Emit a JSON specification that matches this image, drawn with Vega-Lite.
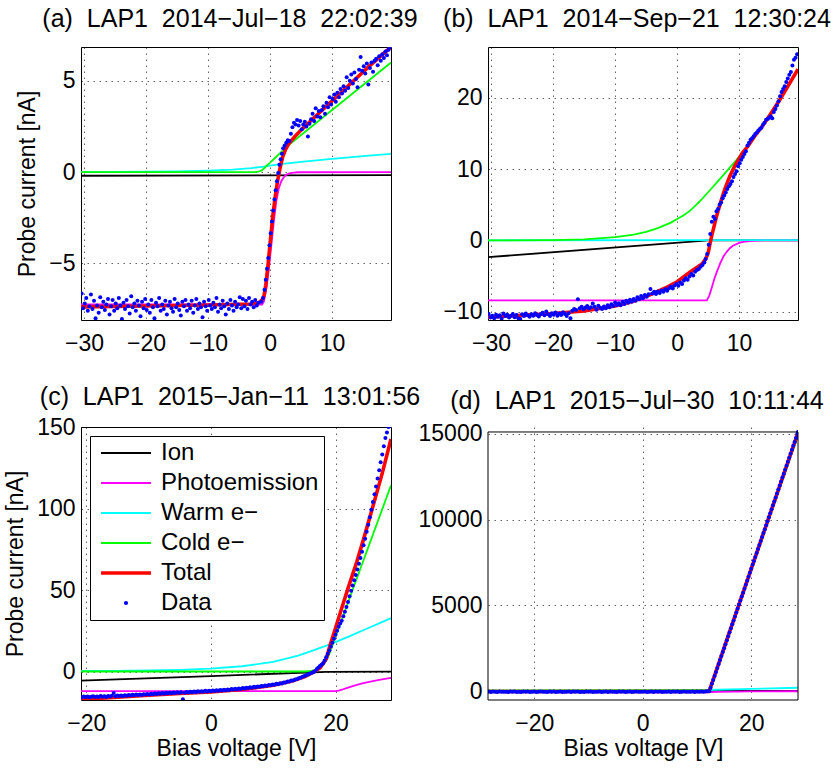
{
  "$schema": "https://vega.github.io/schema/vega-lite/v6.json",
  "background": "white",
  "padding": {"left": 4, "top": 6, "right": 0, "bottom": 0},
  "config": {
    "font": "Liberation Sans",
    "view": {"stroke": "black", "strokeWidth": 1},
    "axis": {
      "labelFont": "Liberation Sans", "labelFontSize": 23, "labelColor": "black",
      "titleFont": "Liberation Sans", "titleFontSize": 23, "titleFontWeight": "normal", "titleColor": "black",
      "domain": false, "ticks": false, "grid": true,
      "gridColor": "#000000", "gridOpacity": 0.6, "gridDash": [1.5, 4.5], "gridWidth": 1
    },
    "axisX": {"labelPadding": 12, "titlePadding": 2},
    "axisY": {"labelPadding": 6, "titlePadding": 9},
    "title": {"font": "Liberation Sans", "fontSize": 25, "fontWeight": "normal", "color": "black", "anchor": "middle", "frame": "group", "baseline": "alphabetic", "offset": 15, "dx": -6}
  },
  "columns": 2,
  "bounds": "flush",
  "spacing": {"row": 107, "column": 97},
  "resolve": {"scale": {"color": "independent"}, "legend": {"color": "independent"}},
  "datasets": {
    "a_lines": [
      {"series": "Ion", "x": -30.5, "y": -0.2}, {"series": "Ion", "x": 19.5, "y": -0.17},
      {"series": "Photoemission", "x": -30.5, "y": -7.25}, {"series": "Photoemission", "x": -1.3, "y": -7.25}, {"series": "Photoemission", "x": -1.0, "y": -7.1}, {"series": "Photoemission", "x": -0.6, "y": -6.4}, {"series": "Photoemission", "x": -0.2, "y": -5.3}, {"series": "Photoemission", "x": 0.2, "y": -4.0}, {"series": "Photoemission", "x": 0.6, "y": -2.7}, {"series": "Photoemission", "x": 1.0, "y": -1.6}, {"series": "Photoemission", "x": 1.4, "y": -0.9}, {"series": "Photoemission", "x": 1.8, "y": -0.5}, {"series": "Photoemission", "x": 2.2, "y": -0.28}, {"series": "Photoemission", "x": 2.6, "y": -0.15}, {"series": "Photoemission", "x": 3.0, "y": -0.08}, {"series": "Photoemission", "x": 3.5, "y": -0.04}, {"series": "Photoemission", "x": 4.5, "y": -0.01}, {"series": "Photoemission", "x": 19.5, "y": 0},
      {"series": "Warm e−", "x": -30.5, "y": 0.0}, {"series": "Warm e−", "x": -25, "y": 0.01}, {"series": "Warm e−", "x": -20, "y": 0.02}, {"series": "Warm e−", "x": -15, "y": 0.04}, {"series": "Warm e−", "x": -10, "y": 0.08}, {"series": "Warm e−", "x": -6, "y": 0.14}, {"series": "Warm e−", "x": -3, "y": 0.22}, {"series": "Warm e−", "x": -1, "y": 0.3}, {"series": "Warm e−", "x": 0, "y": 0.35}, {"series": "Warm e−", "x": 2, "y": 0.45}, {"series": "Warm e−", "x": 5, "y": 0.56}, {"series": "Warm e−", "x": 10, "y": 0.72}, {"series": "Warm e−", "x": 15, "y": 0.87}, {"series": "Warm e−", "x": 19.5, "y": 1.0},
      {"series": "Cold e−", "x": -30.5, "y": 0.0}, {"series": "Cold e−", "x": -2.5, "y": 0.0}, {"series": "Cold e−", "x": -1.9, "y": 0.02}, {"series": "Cold e−", "x": -1.35, "y": 0.09}, {"series": "Cold e−", "x": -0.5, "y": 0.36}, {"series": "Cold e−", "x": 0, "y": 0.52}, {"series": "Cold e−", "x": 1, "y": 0.84}, {"series": "Cold e−", "x": 2, "y": 1.16}, {"series": "Cold e−", "x": 3, "y": 1.48}, {"series": "Cold e−", "x": 5, "y": 2.03}, {"series": "Cold e−", "x": 10, "y": 3.4}, {"series": "Cold e−", "x": 15, "y": 4.77}, {"series": "Cold e−", "x": 19.5, "y": 6.0},
      {"series": "Total", "x": -30.5, "y": -7.38}, {"series": "Total", "x": -20, "y": -7.33}, {"series": "Total", "x": -10, "y": -7.28}, {"series": "Total", "x": -3, "y": -7.22}, {"series": "Total", "x": -1.8, "y": -7.15}, {"series": "Total", "x": -1.3, "y": -7.0}, {"series": "Total", "x": -1.0, "y": -6.8}, {"series": "Total", "x": -0.7, "y": -6.2}, {"series": "Total", "x": -0.4, "y": -5.3}, {"series": "Total", "x": 0, "y": -3.9}, {"series": "Total", "x": 0.4, "y": -2.5}, {"series": "Total", "x": 0.8, "y": -1.4}, {"series": "Total", "x": 1.2, "y": -0.5}, {"series": "Total", "x": 1.6, "y": 0.2}, {"series": "Total", "x": 2.0, "y": 0.8}, {"series": "Total", "x": 2.5, "y": 1.25}, {"series": "Total", "x": 3.0, "y": 1.55}, {"series": "Total", "x": 4.0, "y": 1.95}, {"series": "Total", "x": 5, "y": 2.3}, {"series": "Total", "x": 7, "y": 2.95}, {"series": "Total", "x": 10, "y": 3.9}, {"series": "Total", "x": 13, "y": 4.85}, {"series": "Total", "x": 16, "y": 5.8}, {"series": "Total", "x": 19.5, "y": 6.85}
    ],
    "a_pts": [
      {"x": -30.4, "y": -6.65}, {"x": -30.15, "y": -7.45}, {"x": -29.9, "y": -7.2}, {"x": -29.65, "y": -6.9}, {"x": -29.4, "y": -7.6}, {"x": -29.15, "y": -7.35}, {"x": -28.9, "y": -6.7}, {"x": -28.65, "y": -7.5}, {"x": -28.4, "y": -7.05}, {"x": -28.15, "y": -8.0},
      {"x": -27.9, "y": -7.3}, {"x": -27.65, "y": -7.7}, {"x": -27.4, "y": -6.85}, {"x": -27.15, "y": -7.4}, {"x": -26.9, "y": -7.1}, {"x": -26.65, "y": -7.55}, {"x": -26.4, "y": -7.25}, {"x": -26.15, "y": -6.95}, {"x": -25.9, "y": -7.8}, {"x": -25.65, "y": -7.35},
      {"x": -25.4, "y": -7.0}, {"x": -25.15, "y": -7.6}, {"x": -24.9, "y": -7.2}, {"x": -24.65, "y": -7.45}, {"x": -24.4, "y": -6.9}, {"x": -24.15, "y": -7.3}, {"x": -23.9, "y": -8.05}, {"x": -23.65, "y": -7.15}, {"x": -23.4, "y": -7.5}, {"x": -23.15, "y": -7.0},
      {"x": -22.9, "y": -7.35}, {"x": -22.65, "y": -7.75}, {"x": -22.4, "y": -6.8}, {"x": -22.15, "y": -7.4}, {"x": -21.9, "y": -7.2}, {"x": -21.65, "y": -7.6}, {"x": -21.4, "y": -7.05}, {"x": -21.15, "y": -7.3}, {"x": -20.9, "y": -7.9}, {"x": -20.65, "y": -7.1},
      {"x": -20.4, "y": -7.45}, {"x": -20.15, "y": -6.95}, {"x": -19.9, "y": -7.55}, {"x": -19.65, "y": -7.25}, {"x": -19.4, "y": -7.7}, {"x": -19.15, "y": -7.0}, {"x": -18.9, "y": -7.4}, {"x": -18.65, "y": -8.0}, {"x": -18.4, "y": -7.15}, {"x": -18.15, "y": -7.35},
      {"x": -17.9, "y": -6.9}, {"x": -17.65, "y": -7.6}, {"x": -17.4, "y": -7.25}, {"x": -17.15, "y": -7.5}, {"x": -16.9, "y": -7.05}, {"x": -16.65, "y": -7.8}, {"x": -16.4, "y": -7.3}, {"x": -16.15, "y": -7.1}, {"x": -15.9, "y": -7.45}, {"x": -15.65, "y": -7.65},
      {"x": -15.4, "y": -6.95}, {"x": -15.15, "y": -7.4}, {"x": -14.9, "y": -7.2}, {"x": -14.65, "y": -7.55}, {"x": -14.4, "y": -7.85}, {"x": -14.15, "y": -7.1}, {"x": -13.9, "y": -7.35}, {"x": -13.65, "y": -7.0}, {"x": -13.4, "y": -7.6}, {"x": -13.15, "y": -7.25},
      {"x": -12.9, "y": -7.45}, {"x": -12.65, "y": -7.05}, {"x": -12.4, "y": -7.7}, {"x": -12.15, "y": -7.3}, {"x": -11.9, "y": -6.95}, {"x": -11.65, "y": -7.5}, {"x": -11.4, "y": -7.2}, {"x": -11.15, "y": -7.4}, {"x": -10.9, "y": -7.95}, {"x": -10.65, "y": -7.1},
      {"x": -10.4, "y": -7.35}, {"x": -10.15, "y": -7.6}, {"x": -9.9, "y": -7.0}, {"x": -9.65, "y": -7.3}, {"x": -9.4, "y": -7.5}, {"x": -9.15, "y": -7.15}, {"x": -8.9, "y": -7.4}, {"x": -8.65, "y": -6.9}, {"x": -8.4, "y": -7.65}, {"x": -8.15, "y": -7.25},
      {"x": -7.9, "y": -7.45}, {"x": -7.65, "y": -7.05}, {"x": -7.4, "y": -7.35}, {"x": -7.15, "y": -7.8}, {"x": -6.9, "y": -7.2}, {"x": -6.65, "y": -7.5}, {"x": -6.4, "y": -7.0}, {"x": -6.15, "y": -7.3}, {"x": -5.9, "y": -7.6}, {"x": -5.65, "y": -7.1},
      {"x": -5.4, "y": -7.4}, {"x": -5.15, "y": -7.25}, {"x": -4.9, "y": -6.85}, {"x": -4.65, "y": -7.45}, {"x": -4.4, "y": -6.95}, {"x": -4.15, "y": -7.35}, {"x": -3.9, "y": -7.05}, {"x": -3.65, "y": -7.5}, {"x": -3.4, "y": -6.9}, {"x": -3.15, "y": -7.25},
      {"x": -2.9, "y": -7.1}, {"x": -2.65, "y": -7.4}, {"x": -2.4, "y": -7.0}, {"x": -2.15, "y": -7.3}, {"x": -1.9, "y": -7.15}, {"x": -1.65, "y": -8.2}, {"x": -1.4, "y": -7.1},
      {"x": -1.15, "y": -6.9}, {"x": -0.9, "y": -6.45}, {"x": -0.7, "y": -5.9}, {"x": -0.5, "y": -5.3}, {"x": -0.3, "y": -4.7}, {"x": -0.1, "y": -4.0}, {"x": 0.1, "y": -3.35}, {"x": 0.3, "y": -2.7}, {"x": 0.5, "y": -2.1}, {"x": 0.7, "y": -1.5},
      {"x": 0.9, "y": -1.0}, {"x": 1.1, "y": -0.5}, {"x": 1.3, "y": -0.05}, {"x": 1.5, "y": 0.4}, {"x": 1.7, "y": 0.7}, {"x": 1.9, "y": 1.0}, {"x": 2.1, "y": 1.3}, {"x": 2.35, "y": 1.45}, {"x": 2.6, "y": 1.6}, {"x": 2.85, "y": 1.75},
      {"x": 3.1, "y": 1.7}, {"x": 3.35, "y": 2.1}, {"x": 3.6, "y": 2.45}, {"x": 3.85, "y": 2.7}, {"x": 4.1, "y": 2.6}, {"x": 4.35, "y": 2.85}, {"x": 4.6, "y": 2.55}, {"x": 4.85, "y": 2.8}, {"x": 5.1, "y": 2.35}, {"x": 5.35, "y": 2.6},
      {"x": 5.6, "y": 2.75}, {"x": 5.85, "y": 2.5}, {"x": 6.1, "y": 1.95}, {"x": 6.35, "y": 2.65}, {"x": 6.6, "y": 2.9}, {"x": 6.85, "y": 3.2}, {"x": 7.1, "y": 2.8}, {"x": 7.35, "y": 3.5}, {"x": 7.6, "y": 3.05}, {"x": 7.85, "y": 3.35},
      {"x": 8.1, "y": 3.0}, {"x": 8.35, "y": 3.4}, {"x": 8.6, "y": 3.6}, {"x": 8.85, "y": 3.2}, {"x": 9.1, "y": 3.8}, {"x": 9.35, "y": 3.55}, {"x": 9.6, "y": 4.1}, {"x": 9.85, "y": 3.7}, {"x": 10.1, "y": 4.0}, {"x": 10.35, "y": 4.25},
      {"x": 10.6, "y": 3.85}, {"x": 10.85, "y": 4.35}, {"x": 11.1, "y": 4.1}, {"x": 11.35, "y": 4.55}, {"x": 11.6, "y": 4.3}, {"x": 11.85, "y": 4.7}, {"x": 12.1, "y": 4.45}, {"x": 12.35, "y": 5.2}, {"x": 12.6, "y": 4.6}, {"x": 12.85, "y": 5.0},
      {"x": 13.1, "y": 5.35}, {"x": 13.35, "y": 4.85}, {"x": 13.6, "y": 5.45}, {"x": 13.85, "y": 5.1}, {"x": 14.1, "y": 4.65}, {"x": 14.35, "y": 5.6}, {"x": 14.6, "y": 6.3}, {"x": 14.85, "y": 5.55}, {"x": 15.1, "y": 5.8}, {"x": 15.35, "y": 5.4},
      {"x": 15.6, "y": 5.95}, {"x": 15.85, "y": 4.8}, {"x": 16.1, "y": 5.7}, {"x": 16.35, "y": 6.0}, {"x": 16.6, "y": 5.5}, {"x": 16.85, "y": 6.1}, {"x": 17.1, "y": 6.2}, {"x": 17.35, "y": 5.85}, {"x": 17.6, "y": 6.35}, {"x": 17.85, "y": 6.1},
      {"x": 18.1, "y": 6.45}, {"x": 18.35, "y": 6.25}, {"x": 18.6, "y": 6.6}, {"x": 18.85, "y": 6.4}, {"x": 19.1, "y": 6.7}, {"x": 19.35, "y": 6.85}
    ],
    "b_lines": [
      {"series": "Ion", "x": -30.5, "y": -2.35}, {"series": "Ion", "x": 5.0, "y": 0}, {"series": "Ion", "x": 19.5, "y": 0},
      {"series": "Photoemission", "x": -30.5, "y": -8.4}, {"series": "Photoemission", "x": 4.8, "y": -8.4}, {"series": "Photoemission", "x": 5.2, "y": -7.7}, {"series": "Photoemission", "x": 5.6, "y": -6.6}, {"series": "Photoemission", "x": 6.0, "y": -5.4}, {"series": "Photoemission", "x": 6.5, "y": -4.2}, {"series": "Photoemission", "x": 7.0, "y": -3.1}, {"series": "Photoemission", "x": 7.5, "y": -2.2}, {"series": "Photoemission", "x": 8.0, "y": -1.6}, {"series": "Photoemission", "x": 8.5, "y": -1.1}, {"series": "Photoemission", "x": 9, "y": -0.75}, {"series": "Photoemission", "x": 10, "y": -0.35}, {"series": "Photoemission", "x": 11, "y": -0.15}, {"series": "Photoemission", "x": 12, "y": -0.06}, {"series": "Photoemission", "x": 13, "y": -0.02}, {"series": "Photoemission", "x": 14, "y": 0}, {"series": "Photoemission", "x": 19.5, "y": 0},
      {"series": "Warm e−", "x": -30.5, "y": 0.02}, {"series": "Warm e−", "x": 19.5, "y": 0.05},
      {"series": "Cold e−", "x": -30.5, "y": 0}, {"series": "Cold e−", "x": -20, "y": 0.05}, {"series": "Cold e−", "x": -15, "y": 0.15}, {"series": "Cold e−", "x": -10, "y": 0.45}, {"series": "Cold e−", "x": -7, "y": 0.8}, {"series": "Cold e−", "x": -5, "y": 1.2}, {"series": "Cold e−", "x": -3, "y": 1.75}, {"series": "Cold e−", "x": -1, "y": 2.5}, {"series": "Cold e−", "x": 0, "y": 3.0}, {"series": "Cold e−", "x": 1, "y": 3.5}, {"series": "Cold e−", "x": 2, "y": 4.1}, {"series": "Cold e−", "x": 3, "y": 4.9}, {"series": "Cold e−", "x": 4, "y": 5.8}, {"series": "Cold e−", "x": 5, "y": 6.75}, {"series": "Cold e−", "x": 7, "y": 8.7}, {"series": "Cold e−", "x": 10, "y": 11.7}, {"series": "Cold e−", "x": 12, "y": 13.9}, {"series": "Cold e−", "x": 13.65, "y": 15.9}, {"series": "Cold e−", "x": 15, "y": 17.6}, {"series": "Cold e−", "x": 16.5, "y": 19.6}, {"series": "Cold e−", "x": 18, "y": 21.8}, {"series": "Cold e−", "x": 19.5, "y": 24.0},
      {"series": "Total", "x": -30.5, "y": -10.75}, {"series": "Total", "x": -25, "y": -10.5}, {"series": "Total", "x": -20, "y": -10.25}, {"series": "Total", "x": -15, "y": -9.9}, {"series": "Total", "x": -10, "y": -9.2}, {"series": "Total", "x": -7, "y": -8.5}, {"series": "Total", "x": -4, "y": -7.5}, {"series": "Total", "x": -2, "y": -6.7}, {"series": "Total", "x": 0, "y": -5.8}, {"series": "Total", "x": 2, "y": -4.5}, {"series": "Total", "x": 4, "y": -3.3}, {"series": "Total", "x": 4.6, "y": -2.6}, {"series": "Total", "x": 5.0, "y": -1.8}, {"series": "Total", "x": 5.3, "y": -0.5}, {"series": "Total", "x": 5.6, "y": 0.7}, {"series": "Total", "x": 6.0, "y": 2.1}, {"series": "Total", "x": 6.4, "y": 3.5}, {"series": "Total", "x": 7.0, "y": 5.3}, {"series": "Total", "x": 7.7, "y": 7.2}, {"series": "Total", "x": 8.5, "y": 9.0}, {"series": "Total", "x": 9.35, "y": 10.5}, {"series": "Total", "x": 10.5, "y": 12.2}, {"series": "Total", "x": 11.5, "y": 13.3}, {"series": "Total", "x": 12.5, "y": 14.6}, {"series": "Total", "x": 13.65, "y": 15.9}, {"series": "Total", "x": 15, "y": 17.6}, {"series": "Total", "x": 16.5, "y": 19.6}, {"series": "Total", "x": 18, "y": 21.8}, {"series": "Total", "x": 19.5, "y": 24.0}
    ],
    "b_pts": [
      {"x": -30.4, "y": -10.3}, {"x": -30.1, "y": -10.8}, {"x": -29.8, "y": -10.55}, {"x": -29.5, "y": -10.9}, {"x": -29.2, "y": -10.4}, {"x": -28.9, "y": -10.7}, {"x": -28.6, "y": -10.5}, {"x": -28.3, "y": -10.95}, {"x": -28.0, "y": -10.25}, {"x": -27.7, "y": -10.6},
      {"x": -27.4, "y": -10.4}, {"x": -27.1, "y": -10.8}, {"x": -26.8, "y": -10.55}, {"x": -26.5, "y": -10.3}, {"x": -26.2, "y": -10.75}, {"x": -25.9, "y": -10.45}, {"x": -25.6, "y": -10.9}, {"x": -25.3, "y": -11.0}, {"x": -25.0, "y": -10.35}, {"x": -24.7, "y": -10.6},
      {"x": -24.4, "y": -10.25}, {"x": -24.1, "y": -10.5}, {"x": -23.8, "y": -10.7}, {"x": -23.5, "y": -10.35}, {"x": -23.2, "y": -10.55}, {"x": -22.9, "y": -10.2}, {"x": -22.6, "y": -10.45}, {"x": -22.3, "y": -10.65}, {"x": -22.0, "y": -10.3}, {"x": -21.7, "y": -10.15},
      {"x": -21.4, "y": -10.5}, {"x": -21.1, "y": -9.95}, {"x": -20.8, "y": -10.35}, {"x": -20.5, "y": -10.6}, {"x": -20.2, "y": -10.2}, {"x": -19.9, "y": -10.4}, {"x": -19.6, "y": -10.1}, {"x": -19.3, "y": -10.55}, {"x": -19.0, "y": -10.25}, {"x": -18.7, "y": -10.45},
      {"x": -18.4, "y": -10.05}, {"x": -18.1, "y": -10.3}, {"x": -17.8, "y": -10.6}, {"x": -17.5, "y": -10.2}, {"x": -17.2, "y": -10.9}, {"x": -16.9, "y": -9.85}, {"x": -16.6, "y": -9.6}, {"x": -16.3, "y": -9.75}, {"x": -16.0, "y": -8.25}, {"x": -15.7, "y": -9.5},
      {"x": -15.4, "y": -9.3}, {"x": -15.1, "y": -9.65}, {"x": -14.8, "y": -9.4}, {"x": -14.5, "y": -9.2}, {"x": -14.2, "y": -9.55}, {"x": -13.9, "y": -9.35}, {"x": -13.6, "y": -8.85}, {"x": -13.3, "y": -9.3}, {"x": -13.0, "y": -9.7}, {"x": -12.7, "y": -9.15},
      {"x": -12.4, "y": -9.45}, {"x": -12.1, "y": -9.6}, {"x": -11.8, "y": -9.25}, {"x": -11.5, "y": -9.5}, {"x": -11.2, "y": -9.1}, {"x": -10.9, "y": -9.35}, {"x": -10.6, "y": -8.95}, {"x": -10.3, "y": -9.2}, {"x": -10.0, "y": -8.7}, {"x": -9.7, "y": -9.05},
      {"x": -9.4, "y": -8.8}, {"x": -9.1, "y": -9.1}, {"x": -8.8, "y": -8.6}, {"x": -8.5, "y": -8.9}, {"x": -8.2, "y": -8.45}, {"x": -7.9, "y": -8.75}, {"x": -7.6, "y": -8.3}, {"x": -7.3, "y": -8.6}, {"x": -7.0, "y": -8.2}, {"x": -6.7, "y": -8.45},
      {"x": -6.4, "y": -7.95}, {"x": -6.1, "y": -8.25}, {"x": -5.8, "y": -7.8}, {"x": -5.5, "y": -8.1}, {"x": -5.2, "y": -7.65}, {"x": -4.9, "y": -7.9}, {"x": -4.6, "y": -7.55}, {"x": -4.3, "y": -6.8}, {"x": -4.0, "y": -7.45}, {"x": -3.7, "y": -7.2},
      {"x": -3.4, "y": -7.5}, {"x": -3.1, "y": -7.15}, {"x": -2.8, "y": -7.35}, {"x": -2.5, "y": -7.0}, {"x": -2.2, "y": -7.2}, {"x": -1.9, "y": -6.85}, {"x": -1.6, "y": -7.05}, {"x": -1.3, "y": -6.7}, {"x": -1.0, "y": -6.5}, {"x": -0.7, "y": -6.75},
      {"x": -0.4, "y": -6.3}, {"x": -0.1, "y": -6.1}, {"x": 0.2, "y": -6.35}, {"x": 0.5, "y": -5.9}, {"x": 0.8, "y": -6.1}, {"x": 1.1, "y": -5.6}, {"x": 1.4, "y": -5.3}, {"x": 1.7, "y": -5.5}, {"x": 2.0, "y": -5.05}, {"x": 2.3, "y": -4.7},
      {"x": 2.6, "y": -4.9}, {"x": 2.9, "y": -4.4}, {"x": 3.2, "y": -4.15}, {"x": 3.5, "y": -4.0}, {"x": 3.8, "y": -3.7}, {"x": 4.1, "y": -3.45}, {"x": 4.4, "y": -3.1},
      {"x": 4.6, "y": -2.6}, {"x": 4.85, "y": -1.9}, {"x": 5.1, "y": -0.6}, {"x": 5.35, "y": 0.9}, {"x": 5.6, "y": 2.6}, {"x": 5.85, "y": 3.3}, {"x": 6.1, "y": 3.0}, {"x": 6.35, "y": 4.1}, {"x": 6.6, "y": 4.4}, {"x": 6.85, "y": 5.0},
      {"x": 7.1, "y": 5.3}, {"x": 7.35, "y": 5.9}, {"x": 7.6, "y": 6.3}, {"x": 7.85, "y": 6.7}, {"x": 8.1, "y": 7.2}, {"x": 8.35, "y": 7.6}, {"x": 8.6, "y": 7.9}, {"x": 8.85, "y": 8.3}, {"x": 9.1, "y": 8.9}, {"x": 9.35, "y": 9.3},
      {"x": 9.6, "y": 9.7}, {"x": 9.85, "y": 10.4}, {"x": 10.1, "y": 10.8}, {"x": 10.35, "y": 11.3}, {"x": 10.6, "y": 11.7}, {"x": 10.85, "y": 12.1}, {"x": 11.1, "y": 12.5}, {"x": 11.35, "y": 13.3}, {"x": 11.6, "y": 13.7}, {"x": 11.85, "y": 14.1},
      {"x": 12.1, "y": 14.3}, {"x": 12.35, "y": 14.6}, {"x": 12.6, "y": 14.9}, {"x": 12.85, "y": 15.1}, {"x": 13.1, "y": 15.4}, {"x": 13.35, "y": 15.6}, {"x": 13.6, "y": 15.8}, {"x": 13.85, "y": 16.2}, {"x": 14.1, "y": 16.5}, {"x": 14.35, "y": 16.9},
      {"x": 14.6, "y": 17.0}, {"x": 14.85, "y": 17.2}, {"x": 15.1, "y": 17.4}, {"x": 15.35, "y": 17.1}, {"x": 15.6, "y": 18.0}, {"x": 15.85, "y": 18.4}, {"x": 16.1, "y": 18.9}, {"x": 16.35, "y": 19.5}, {"x": 16.6, "y": 20.2}, {"x": 16.85, "y": 20.8},
      {"x": 17.1, "y": 21.2}, {"x": 17.35, "y": 21.6}, {"x": 17.6, "y": 22.2}, {"x": 17.85, "y": 22.7}, {"x": 18.1, "y": 23.2}, {"x": 18.35, "y": 23.6}, {"x": 18.6, "y": 24.5}, {"x": 18.85, "y": 25.3}, {"x": 19.1, "y": 25.6}, {"x": 19.35, "y": 26.1}
    ],
    "c_lines": [
      {"series": "Ion", "x": -20.85, "y": -5.3}, {"series": "Ion", "x": 0, "y": -2.5}, {"series": "Ion", "x": 18.5, "y": 0}, {"series": "Ion", "x": 28.9, "y": 0.2},
      {"series": "Photoemission", "x": -20.85, "y": -11.7}, {"series": "Photoemission", "x": 19.9, "y": -11.7}, {"series": "Photoemission", "x": 20.5, "y": -11.4}, {"series": "Photoemission", "x": 21, "y": -10.9}, {"series": "Photoemission", "x": 22, "y": -9.6}, {"series": "Photoemission", "x": 23, "y": -8.4}, {"series": "Photoemission", "x": 24, "y": -7.3}, {"series": "Photoemission", "x": 25, "y": -6.4}, {"series": "Photoemission", "x": 26, "y": -5.6}, {"series": "Photoemission", "x": 27, "y": -4.8}, {"series": "Photoemission", "x": 28.9, "y": -3.6},
      {"series": "Warm e−", "x": -20.85, "y": 0.6}, {"series": "Warm e−", "x": -15, "y": 0.7}, {"series": "Warm e−", "x": -10, "y": 0.9}, {"series": "Warm e−", "x": -5, "y": 1.3}, {"series": "Warm e−", "x": 0, "y": 2.0}, {"series": "Warm e−", "x": 5, "y": 3.5}, {"series": "Warm e−", "x": 10, "y": 6.2}, {"series": "Warm e−", "x": 14, "y": 10.0}, {"series": "Warm e−", "x": 17, "y": 14.0}, {"series": "Warm e−", "x": 19.5, "y": 17.5}, {"series": "Warm e−", "x": 22, "y": 21.5}, {"series": "Warm e−", "x": 25, "y": 26.5}, {"series": "Warm e−", "x": 28.9, "y": 33.0},
      {"series": "Cold e−", "x": -20.85, "y": 0.3}, {"series": "Cold e−", "x": 15, "y": 0.3}, {"series": "Cold e−", "x": 16, "y": 0.6}, {"series": "Cold e−", "x": 17, "y": 1.3}, {"series": "Cold e−", "x": 18, "y": 4.0}, {"series": "Cold e−", "x": 18.5, "y": 7.0}, {"series": "Cold e−", "x": 19, "y": 11.0}, {"series": "Cold e−", "x": 20, "y": 21.7}, {"series": "Cold e−", "x": 22, "y": 42.6}, {"series": "Cold e−", "x": 24, "y": 63.5}, {"series": "Cold e−", "x": 26, "y": 84.3}, {"series": "Cold e−", "x": 28.9, "y": 114.5},
      {"series": "Total", "x": -20.85, "y": -16.8}, {"series": "Total", "x": -15, "y": -15.5}, {"series": "Total", "x": -10, "y": -14.3}, {"series": "Total", "x": -5, "y": -13.2}, {"series": "Total", "x": 0, "y": -12.2}, {"series": "Total", "x": 5, "y": -10.8}, {"series": "Total", "x": 10, "y": -8.2}, {"series": "Total", "x": 13, "y": -5.5}, {"series": "Total", "x": 15, "y": -3.0}, {"series": "Total", "x": 16.5, "y": 0}, {"series": "Total", "x": 17.5, "y": 2.5}, {"series": "Total", "x": 18.5, "y": 8.0}, {"series": "Total", "x": 19.1, "y": 16.0}, {"series": "Total", "x": 20, "y": 27.0}, {"series": "Total", "x": 21, "y": 39.3}, {"series": "Total", "x": 22, "y": 51.3}, {"series": "Total", "x": 23.4, "y": 67.5}, {"series": "Total", "x": 24.5, "y": 81.5}, {"series": "Total", "x": 26.05, "y": 102.3}, {"series": "Total", "x": 27.5, "y": 122.0}, {"series": "Total", "x": 28.9, "y": 143.0}
    ],
    "c_pts": [
      {"x": -20.7, "y": -15.6}, {"x": -20.4, "y": -15.1}, {"x": -20.1, "y": -15.4}, {"x": -19.8, "y": -15.0}, {"x": -19.5, "y": -15.5}, {"x": -19.2, "y": -15.2}, {"x": -18.9, "y": -14.9}, {"x": -18.6, "y": -15.3}, {"x": -18.3, "y": -15.0}, {"x": -18.0, "y": -15.4},
      {"x": -17.7, "y": -14.8}, {"x": -17.4, "y": -15.2}, {"x": -17.1, "y": -14.9}, {"x": -16.8, "y": -15.3}, {"x": -16.5, "y": -14.7}, {"x": -16.2, "y": -15.0}, {"x": -15.9, "y": -14.6}, {"x": -15.6, "y": -12.9}, {"x": -15.3, "y": -14.9}, {"x": -15.0, "y": -14.5},
      {"x": -14.7, "y": -14.8}, {"x": -14.4, "y": -14.4}, {"x": -14.1, "y": -14.7}, {"x": -13.8, "y": -14.3}, {"x": -13.5, "y": -14.6}, {"x": -13.2, "y": -14.2}, {"x": -12.9, "y": -14.5}, {"x": -12.6, "y": -14.0}, {"x": -12.3, "y": -14.3}, {"x": -12.0, "y": -13.9},
      {"x": -11.7, "y": -14.2}, {"x": -11.4, "y": -13.8}, {"x": -11.1, "y": -14.1}, {"x": -10.8, "y": -13.6}, {"x": -10.5, "y": -13.9}, {"x": -10.2, "y": -13.5}, {"x": -9.9, "y": -13.8}, {"x": -9.6, "y": -13.3}, {"x": -9.3, "y": -13.7}, {"x": -9.0, "y": -13.2},
      {"x": -8.7, "y": -13.5}, {"x": -8.4, "y": -13.1}, {"x": -8.1, "y": -13.4}, {"x": -7.8, "y": -12.9}, {"x": -7.5, "y": -13.3}, {"x": -7.2, "y": -12.8}, {"x": -6.9, "y": -13.1}, {"x": -6.6, "y": -12.7}, {"x": -6.3, "y": -13.0}, {"x": -6.0, "y": -12.6},
      {"x": -5.7, "y": -12.9}, {"x": -5.4, "y": -12.4}, {"x": -5.1, "y": -12.8}, {"x": -4.8, "y": -12.5}, {"x": -4.5, "y": -16.8}, {"x": -4.2, "y": -12.7}, {"x": -3.9, "y": -12.3}, {"x": -3.6, "y": -12.6}, {"x": -3.3, "y": -12.2}, {"x": -3.0, "y": -12.5},
      {"x": -2.7, "y": -12.0}, {"x": -2.4, "y": -12.4}, {"x": -2.1, "y": -11.9}, {"x": -1.8, "y": -12.2}, {"x": -1.5, "y": -11.8}, {"x": -1.2, "y": -12.1}, {"x": -0.9, "y": -11.6}, {"x": -0.6, "y": -12.0}, {"x": -0.3, "y": -11.5}, {"x": 0.0, "y": -11.9},
      {"x": 0.3, "y": -11.4}, {"x": 0.6, "y": -11.7}, {"x": 0.9, "y": -11.2}, {"x": 1.2, "y": -11.5}, {"x": 1.5, "y": -11.0}, {"x": 1.8, "y": -11.3}, {"x": 2.1, "y": -10.9}, {"x": 2.4, "y": -11.2}, {"x": 2.7, "y": -10.7}, {"x": 3.0, "y": -11.0},
      {"x": 3.3, "y": -10.5}, {"x": 3.6, "y": -10.8}, {"x": 3.9, "y": -10.3}, {"x": 4.2, "y": -10.6}, {"x": 4.5, "y": -10.1}, {"x": 4.8, "y": -10.4}, {"x": 5.1, "y": -9.9}, {"x": 5.4, "y": -10.2}, {"x": 5.7, "y": -9.7}, {"x": 6.0, "y": -9.9},
      {"x": 6.3, "y": -9.4}, {"x": 6.6, "y": -9.7}, {"x": 6.9, "y": -9.1}, {"x": 7.2, "y": -9.4}, {"x": 7.5, "y": -8.9}, {"x": 7.8, "y": -9.1}, {"x": 8.1, "y": -8.6}, {"x": 8.4, "y": -8.8}, {"x": 8.7, "y": -8.3}, {"x": 9.0, "y": -8.5},
      {"x": 9.3, "y": -8.0}, {"x": 9.6, "y": -8.2}, {"x": 9.9, "y": -7.7}, {"x": 10.2, "y": -7.9}, {"x": 10.5, "y": -7.3}, {"x": 10.8, "y": -7.5}, {"x": 11.1, "y": -6.9}, {"x": 11.4, "y": -7.0}, {"x": 11.7, "y": -6.4}, {"x": 12.0, "y": -6.5},
      {"x": 12.3, "y": -5.9}, {"x": 12.6, "y": -5.9}, {"x": 12.9, "y": -5.3}, {"x": 13.2, "y": -5.2}, {"x": 13.5, "y": -4.6}, {"x": 13.8, "y": -4.4}, {"x": 14.1, "y": -3.8}, {"x": 14.4, "y": -3.5}, {"x": 14.7, "y": -2.9}, {"x": 15.0, "y": -2.5},
      {"x": 15.3, "y": -2.0}, {"x": 15.6, "y": -1.5}, {"x": 15.9, "y": -1.0}, {"x": 16.2, "y": -0.5},
      {"x": 16.5, "y": 0.0}, {"x": 16.75, "y": 0.8}, {"x": 17.0, "y": 1.8}, {"x": 17.25, "y": 2.8}, {"x": 17.5, "y": 3.6}, {"x": 17.75, "y": 4.5}, {"x": 18.0, "y": 5.3}, {"x": 18.25, "y": 7.0}, {"x": 18.5, "y": 9.0}, {"x": 18.75, "y": 11.2},
      {"x": 19.0, "y": 13.3}, {"x": 19.25, "y": 15.6}, {"x": 19.5, "y": 18.0}, {"x": 19.75, "y": 20.4}, {"x": 20.0, "y": 22.8}, {"x": 20.25, "y": 25.3}, {"x": 20.5, "y": 27.8}, {"x": 20.75, "y": 29.8}, {"x": 21.0, "y": 31.5}, {"x": 21.25, "y": 34.2},
      {"x": 21.5, "y": 37.0}, {"x": 21.75, "y": 39.8}, {"x": 22.0, "y": 43.0}, {"x": 22.25, "y": 46.5}, {"x": 22.5, "y": 49.8}, {"x": 22.75, "y": 53.0}, {"x": 23.0, "y": 56.3}, {"x": 23.25, "y": 59.5}, {"x": 23.5, "y": 62.8}, {"x": 23.75, "y": 66.4},
      {"x": 24.0, "y": 70.0}, {"x": 24.25, "y": 73.8}, {"x": 24.5, "y": 77.8}, {"x": 24.75, "y": 81.8}, {"x": 25.0, "y": 86.0}, {"x": 25.25, "y": 90.4}, {"x": 25.5, "y": 95.0}, {"x": 25.75, "y": 99.6}, {"x": 26.0, "y": 104.3}, {"x": 26.25, "y": 109.0},
      {"x": 26.5, "y": 113.8}, {"x": 26.75, "y": 118.7}, {"x": 27.0, "y": 123.7}, {"x": 27.25, "y": 128.6}, {"x": 27.5, "y": 133.5}, {"x": 27.75, "y": 138.5}, {"x": 28.0, "y": 143.5}, {"x": 28.25, "y": 147.0}, {"x": 28.5, "y": 150.3}
    ],
    "d_lines": [
      {"series": "Ion", "x": -28.52, "y": -40}, {"series": "Ion", "x": 12.3, "y": 0}, {"series": "Ion", "x": 28.62, "y": 0},
      {"series": "Photoemission", "x": -28.52, "y": -60}, {"series": "Photoemission", "x": 12.3, "y": -60}, {"series": "Photoemission", "x": 14, "y": -45}, {"series": "Photoemission", "x": 20, "y": -25}, {"series": "Photoemission", "x": 28.62, "y": -15},
      {"series": "Warm e−", "x": -28.52, "y": 0}, {"series": "Warm e−", "x": 0, "y": 10}, {"series": "Warm e−", "x": 12, "y": 60}, {"series": "Warm e−", "x": 20, "y": 120}, {"series": "Warm e−", "x": 28.62, "y": 190},
      {"series": "Cold e−", "x": -28.52, "y": 40}, {"series": "Cold e−", "x": 12, "y": 60}, {"series": "Cold e−", "x": 12.4, "y": 150}, {"series": "Cold e−", "x": 28.62, "y": 14900},
      {"series": "Total", "x": -28.52, "y": -30}, {"series": "Total", "x": 12.1, "y": -20}, {"series": "Total", "x": 12.4, "y": 120}, {"series": "Total", "x": 28.62, "y": 15080}
    ],
    "d_pts": [
      {"x": -28.4, "y": -35}, {"x": -28.0, "y": -55}, {"x": -27.6, "y": -28}, {"x": -27.2, "y": -46}, {"x": -26.8, "y": -62}, {"x": -26.4, "y": -30}, {"x": -26.0, "y": -42}, {"x": -25.6, "y": -50}, {"x": -25.2, "y": -38}, {"x": -24.8, "y": -58},
      {"x": -24.4, "y": -33}, {"x": -24.0, "y": -47}, {"x": -23.6, "y": -25}, {"x": -23.2, "y": -52}, {"x": -22.8, "y": -40}, {"x": -22.4, "y": -60}, {"x": -22.0, "y": -36}, {"x": -21.6, "y": -44}, {"x": -21.2, "y": -29}, {"x": -20.8, "y": -55},
      {"x": -20.4, "y": -41}, {"x": -20.0, "y": -33}, {"x": -19.6, "y": -57}, {"x": -19.2, "y": -45}, {"x": -18.8, "y": -27}, {"x": -18.4, "y": -50}, {"x": -18.0, "y": -38}, {"x": -17.6, "y": -61}, {"x": -17.2, "y": -34}, {"x": -16.8, "y": -48},
      {"x": -16.4, "y": -30}, {"x": -16.0, "y": -53}, {"x": -15.6, "y": -42}, {"x": -15.2, "y": -26}, {"x": -14.8, "y": -56}, {"x": -14.4, "y": -39}, {"x": -14.0, "y": -47}, {"x": -13.6, "y": -31}, {"x": -13.2, "y": -59}, {"x": -12.8, "y": -36},
      {"x": -12.4, "y": -44}, {"x": -12.0, "y": -28}, {"x": -11.6, "y": -51}, {"x": -11.2, "y": -40}, {"x": -10.8, "y": -57}, {"x": -10.4, "y": -33}, {"x": -10.0, "y": -46}, {"x": -9.6, "y": -25}, {"x": -9.2, "y": -54}, {"x": -8.8, "y": -37},
      {"x": -8.4, "y": -49}, {"x": -8.0, "y": -30}, {"x": -7.6, "y": -60}, {"x": -7.2, "y": -42}, {"x": -6.8, "y": -35}, {"x": -6.4, "y": -52}, {"x": -6.0, "y": -27}, {"x": -5.6, "y": -45}, {"x": -5.2, "y": -38}, {"x": -4.8, "y": -58},
      {"x": -4.4, "y": -32}, {"x": -4.0, "y": -48}, {"x": -3.6, "y": -29}, {"x": -3.2, "y": -55}, {"x": -2.8, "y": -41}, {"x": -2.4, "y": -34}, {"x": -2.0, "y": -57}, {"x": -1.6, "y": -43}, {"x": -1.2, "y": -26}, {"x": -0.8, "y": -50},
      {"x": -0.4, "y": -37}, {"x": 0.0, "y": -46}, {"x": 0.4, "y": -31}, {"x": 0.8, "y": -58}, {"x": 1.2, "y": -40}, {"x": 1.6, "y": -28}, {"x": 2.0, "y": -53}, {"x": 2.4, "y": -36}, {"x": 2.8, "y": -47}, {"x": 3.2, "y": -30},
      {"x": 3.6, "y": -55}, {"x": 4.0, "y": -39}, {"x": 4.4, "y": -44}, {"x": 4.8, "y": -27}, {"x": 5.2, "y": -52}, {"x": 5.6, "y": -35}, {"x": 6.0, "y": -49}, {"x": 6.4, "y": -32}, {"x": 6.8, "y": -56}, {"x": 7.2, "y": -41},
      {"x": 7.6, "y": -29}, {"x": 8.0, "y": -50}, {"x": 8.4, "y": -38}, {"x": 8.8, "y": -45}, {"x": 9.2, "y": -26}, {"x": 9.6, "y": -53}, {"x": 10.0, "y": -36}, {"x": 10.4, "y": -47}, {"x": 10.8, "y": -31}, {"x": 11.2, "y": -42},
      {"x": 11.6, "y": -35}, {"x": 12.0, "y": -20},
      {"x": 12.25, "y": -20}, {"x": 12.5, "y": 185}, {"x": 12.75, "y": 417}, {"x": 13.0, "y": 648}, {"x": 13.25, "y": 880}, {"x": 13.5, "y": 1111}, {"x": 13.75, "y": 1343}, {"x": 14.0, "y": 1574}, {"x": 14.25, "y": 1806}, {"x": 14.5, "y": 2037},
      {"x": 14.75, "y": 2269}, {"x": 15.0, "y": 2500}, {"x": 15.25, "y": 2732}, {"x": 15.5, "y": 2963}, {"x": 15.75, "y": 3195}, {"x": 16.0, "y": 3426}, {"x": 16.25, "y": 3658}, {"x": 16.5, "y": 3889}, {"x": 16.75, "y": 4121}, {"x": 17.0, "y": 4352},
      {"x": 17.25, "y": 4584}, {"x": 17.5, "y": 4815}, {"x": 17.75, "y": 5047}, {"x": 18.0, "y": 5278}, {"x": 18.25, "y": 5510}, {"x": 18.5, "y": 5741}, {"x": 18.75, "y": 5973}, {"x": 19.0, "y": 6204}, {"x": 19.25, "y": 6436}, {"x": 19.5, "y": 6667},
      {"x": 19.75, "y": 6899}, {"x": 20.0, "y": 7130}, {"x": 20.25, "y": 7362}, {"x": 20.5, "y": 7593}, {"x": 20.75, "y": 7825}, {"x": 21.0, "y": 8056}, {"x": 21.25, "y": 8288}, {"x": 21.5, "y": 8519}, {"x": 21.75, "y": 8751}, {"x": 22.0, "y": 8982},
      {"x": 22.25, "y": 9214}, {"x": 22.5, "y": 9445}, {"x": 22.75, "y": 9677}, {"x": 23.0, "y": 9908}, {"x": 23.25, "y": 10140}, {"x": 23.5, "y": 10371}, {"x": 23.75, "y": 10603}, {"x": 24.0, "y": 10834}, {"x": 24.25, "y": 11066}, {"x": 24.5, "y": 11297},
      {"x": 24.75, "y": 11529}, {"x": 25.0, "y": 11760}, {"x": 25.25, "y": 11992}, {"x": 25.5, "y": 12223}, {"x": 25.75, "y": 12455}, {"x": 26.0, "y": 12686}, {"x": 26.25, "y": 12918}, {"x": 26.5, "y": 13149}, {"x": 26.75, "y": 13381}, {"x": 27.0, "y": 13612},
      {"x": 27.25, "y": 13844}, {"x": 27.5, "y": 14075}, {"x": 27.75, "y": 14307}, {"x": 28.0, "y": 14538}, {"x": 28.25, "y": 14770}, {"x": 28.5, "y": 15001}, {"x": 28.6, "y": 15120}
    ]
  },
  "concat": [
    {
      "width": 310, "height": 273,
      "title": {"text": "(a)\u00a0\u00a0LAP1\u00a0\u00a02014−Jul−18\u00a0\u00a022:02:39"},
      "layer": [
        {
          "data": {"name": "a_lines"},
          "transform": [{"filter": "datum.series !== 'Total'"}],
          "mark": {"type": "line", "strokeWidth": 1.8, "clip": true},
          "encoding": {
            "x": {"field": "x", "type": "quantitative", "scale": {"domain": [-30.5, 19.5], "nice": false, "zero": false}, "axis": {"values": [-30, -20, -10, 0, 10], "title": null}},
            "y": {"field": "y", "type": "quantitative", "scale": {"domain": [-8.1, 6.85], "nice": false, "zero": false}, "axis": {"values": [-5, 0, 5], "title": "Probe current [nA]"}},
            "color": {"field": "series", "type": "nominal", "scale": {"domain": ["Ion", "Photoemission", "Warm e−", "Cold e−", "Total", "Data"], "range": ["#000000", "#ff00ff", "#00ffff", "#00ff00", "#ff0000", "#0000ff"]}, "legend": null}
          }
        },
        {
          "data": {"name": "a_lines"},
          "transform": [{"filter": "datum.series === 'Total'"}],
          "mark": {"type": "line", "strokeWidth": 3.6, "clip": true},
          "encoding": {
            "x": {"field": "x", "type": "quantitative"},
            "y": {"field": "y", "type": "quantitative"},
            "color": {"field": "series", "type": "nominal", "legend": null}
          }
        },
        {
          "data": {"name": "a_pts"},
          "mark": {"type": "circle", "size": 16, "opacity": 1, "clip": true},
          "encoding": {
            "x": {"field": "x", "type": "quantitative"},
            "y": {"field": "y", "type": "quantitative"},
            "color": {"datum": "Data", "type": "nominal", "legend": null}
          }
        }
      ]
    },
    {
      "width": 310, "height": 273,
      "title": {"text": "(b)\u00a0\u00a0LAP1\u00a0\u00a02014−Sep−21\u00a0\u00a012:30:24"},
      "layer": [
        {
          "data": {"name": "b_lines"},
          "transform": [{"filter": "datum.series !== 'Total'"}],
          "mark": {"type": "line", "strokeWidth": 1.8, "clip": true},
          "encoding": {
            "x": {"field": "x", "type": "quantitative", "scale": {"domain": [-30.5, 19.5], "nice": false, "zero": false}, "axis": {"values": [-30, -20, -10, 0, 10], "title": null}},
            "y": {"field": "y", "type": "quantitative", "scale": {"domain": [-11.15, 27.1], "nice": false, "zero": false}, "axis": {"values": [-10, 0, 10, 20], "title": null}},
            "color": {"field": "series", "type": "nominal", "scale": {"domain": ["Ion", "Photoemission", "Warm e−", "Cold e−", "Total", "Data"], "range": ["#000000", "#ff00ff", "#00ffff", "#00ff00", "#ff0000", "#0000ff"]}, "legend": null}
          }
        },
        {
          "data": {"name": "b_lines"},
          "transform": [{"filter": "datum.series === 'Total'"}],
          "mark": {"type": "line", "strokeWidth": 3.6, "clip": true},
          "encoding": {
            "x": {"field": "x", "type": "quantitative"},
            "y": {"field": "y", "type": "quantitative"},
            "color": {"field": "series", "type": "nominal", "legend": null}
          }
        },
        {
          "data": {"name": "b_pts"},
          "mark": {"type": "circle", "size": 16, "opacity": 1, "clip": true},
          "encoding": {
            "x": {"field": "x", "type": "quantitative"},
            "y": {"field": "y", "type": "quantitative"},
            "color": {"datum": "Data", "type": "nominal", "legend": null}
          }
        }
      ]
    },
    {
      "width": 310, "height": 273,
      "title": {"text": "(c)\u00a0\u00a0LAP1\u00a0\u00a02015−Jan−11\u00a0\u00a013:01:56", "offset": 6},
      "layer": [
        {
          "data": {"name": "c_lines"},
          "transform": [{"filter": "datum.series !== 'Total'"}],
          "mark": {"type": "line", "strokeWidth": 1.8, "clip": true},
          "encoding": {
            "x": {"field": "x", "type": "quantitative", "scale": {"domain": [-20.85, 28.9], "nice": false, "zero": false}, "axis": {"values": [-20, 0, 20], "title": "Bias voltage [V]"}},
            "y": {"field": "y", "type": "quantitative", "scale": {"domain": [-17.2, 150.3], "nice": false, "zero": false}, "axis": {"values": [0, 50, 100, 150], "title": "Probe current [nA]"}},
            "color": {
              "field": "series", "type": "nominal",
              "scale": {"domain": ["Ion", "Photoemission", "Warm e−", "Cold e−", "Total", "Data"], "range": ["#000000", "#ff00ff", "#00ffff", "#00ff00", "#ff0000", "#0000ff"]},
              "legend": {
                "orient": "top-left", "offset": 9, "title": null,
                "padding": 5, "strokeColor": "black", "fillColor": "white", "cornerRadius": 0,
                "labelFont": "Liberation Sans", "labelFontSize": 24, "labelColor": "black", "labelLimit": 400,
                "rowPadding": 6, "symbolType": "M-4,0H4", "symbolSize": 156, "symbolStrokeWidth": 1.8,
                "symbolOffset": 19, "labelOffset": 23,
                "encode": {
                  "symbols": {
                    "update": {
                      "shape": {"signal": "datum.value === 'Data' ? 'circle' : 'M-4,0H4'"},
                      "size": {"signal": "datum.value === 'Data' ? 18 : 156"},
                      "strokeWidth": {"signal": "datum.value === 'Total' ? 3.6 : (datum.value === 'Data' ? 0 : 1.8)"},
                      "fill": {"signal": "datum.value === 'Data' ? '#0000ff' : 'transparent'"},
                      "stroke": {"signal": "datum.value === 'Ion' ? '#000000' : datum.value === 'Photoemission' ? '#ff00ff' : datum.value === 'Warm e−' ? '#00ffff' : datum.value === 'Cold e−' ? '#00ff00' : datum.value === 'Total' ? '#ff0000' : '#0000ff'"},
                      "opacity": {"value": 1}
                    }
                  }
                }
              }
            }
          }
        },
        {
          "data": {"name": "c_lines"},
          "transform": [{"filter": "datum.series === 'Total'"}],
          "mark": {"type": "line", "strokeWidth": 3.6, "clip": true},
          "encoding": {
            "x": {"field": "x", "type": "quantitative"},
            "y": {"field": "y", "type": "quantitative"},
            "color": {"field": "series", "type": "nominal"}
          }
        },
        {
          "data": {"name": "c_pts"},
          "mark": {"type": "circle", "size": 16, "opacity": 1, "clip": true},
          "encoding": {
            "x": {"field": "x", "type": "quantitative"},
            "y": {"field": "y", "type": "quantitative"},
            "color": {"datum": "Data", "type": "nominal"}
          }
        }
      ]
    },
    {
      "width": 310, "height": 273,
      "view": {"stroke": null},
      "title": {"text": "(d)\u00a0\u00a0LAP1\u00a0\u00a02015−Jul−30\u00a0\u00a010:11:44", "offset": 9},
      "layer": [
        {
          "data": {"name": "d_lines"},
          "transform": [{"filter": "datum.series !== 'Total'"}],
          "mark": {"type": "line", "strokeWidth": 1.8, "clip": true},
          "encoding": {
            "x": {"field": "x", "type": "quantitative", "scale": {"domain": [-28.52, 28.62], "nice": false, "zero": false}, "axis": {"values": [-20, 0, 20], "title": "Bias voltage [V]"}},
            "y": {"field": "y", "type": "quantitative", "scale": {"domain": [-525, 15407], "nice": false, "zero": false}, "axis": {"values": [0, 5000, 10000, 15000], "format": "d", "title": null}},
            "color": {"field": "series", "type": "nominal", "scale": {"domain": ["Ion", "Photoemission", "Warm e−", "Cold e−", "Total", "Data"], "range": ["#000000", "#ff00ff", "#00ffff", "#00ff00", "#ff0000", "#0000ff"]}, "legend": null}
          }
        },
        {
          "data": {"name": "d_lines"},
          "transform": [{"filter": "datum.series === 'Total'"}],
          "mark": {"type": "line", "strokeWidth": 3.6, "clip": true},
          "encoding": {
            "x": {"field": "x", "type": "quantitative"},
            "y": {"field": "y", "type": "quantitative"},
            "color": {"field": "series", "type": "nominal", "legend": null}
          }
        },
        {
          "data": {"name": "d_pts"},
          "mark": {"type": "circle", "size": 16, "opacity": 1, "clip": true},
          "encoding": {
            "x": {"field": "x", "type": "quantitative"},
            "y": {"field": "y", "type": "quantitative"},
            "color": {"datum": "Data", "type": "nominal", "legend": null}
          }
        },
        {
          "data": {"values": [{}]},
          "mark": {"type": "rect", "fillOpacity": 0, "stroke": "black", "strokeWidth": 1},
          "encoding": {
            "x": {"datum": -28.52, "type": "quantitative"},
            "x2": {"datum": 28.62},
            "y": {"datum": -525, "type": "quantitative"},
            "y2": {"datum": 15117}
          }
        }
      ]
    }
  ]
}
